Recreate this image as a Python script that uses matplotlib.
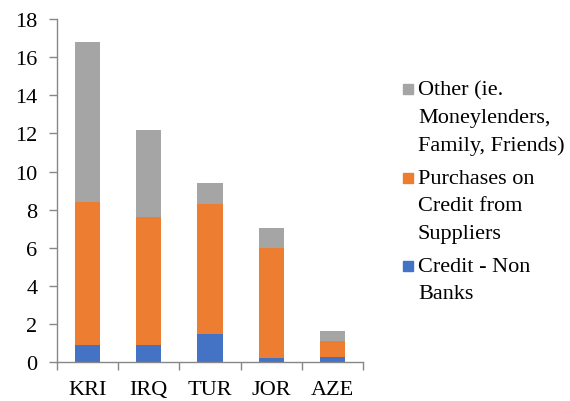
import matplotlib.pyplot as plt
import matplotlib.patches as mpatches
import numpy as np

plt.rcParams['font.family'] = ['Liberation Serif', 'DejaVu Serif']

countries = ['KRI', 'IRQ', 'TUR', 'JOR', 'AZE']
credit_non_banks = [0.9, 0.9, 1.45, 0.2, 0.27]
purchases_on_credit = [7.5, 6.7, 6.85, 5.8, 0.83]
other = [8.4, 4.6, 1.1, 1.05, 0.55]

series_labels = ['Other (ie.\nMoneylenders,\nFamily, Friends)',
                 'Purchases on\nCredit from\nSuppliers',
                 'Credit - Non\nBanks']
col_blue, col_orange, col_grey = '#4472C4', '#ED7D31', '#A5A5A5'
spine_col = '#878787'

fig = plt.figure(figsize=(5.7, 4.02), dpi=100)
ax = fig.add_axes([0.1, 0.097, 0.537, 0.853])

x = np.arange(len(countries))
w = 0.41
b1 = np.array(credit_non_banks)
b2 = b1 + np.array(purchases_on_credit)
ax.bar(x, credit_non_banks, w, color=col_blue)
ax.bar(x, purchases_on_credit, w, bottom=b1, color=col_orange)
ax.bar(x, other, w, bottom=b2, color=col_grey)

ax.set_xlim(-0.5, len(countries) - 0.5)
ax.set_ylim(0, 18)
ax.set_yticks(range(0, 19, 2))
ax.set_xticks(x)
ax.set_xticklabels(countries)
ax.set_xticks(np.arange(-0.5, len(countries)), minor=True)
ax.tick_params(axis='x', which='major', length=0, labelsize=16, pad=13)
ax.tick_params(axis='x', which='minor', length=6, width=1, color=spine_col, direction='out')
ax.tick_params(axis='y', length=6, width=1, color=spine_col, labelsize=16, pad=8)

for s in ['top', 'right']:
    ax.spines[s].set_visible(False)
for s in ['left', 'bottom']:
    ax.spines[s].set_color(spine_col)
    ax.spines[s].set_linewidth(1)

# legend drawn by hand so the swatch sits on the first line of each label
entries = [(col_grey, series_labels[0], 90),
           (col_orange, series_labels[1], 179),
           (col_blue, series_labels[2], 267)]
W, H = 570.0, 402.0
for col, lab, yc in entries:
    fig.patches.append(mpatches.Rectangle((403 / W, 1 - (yc + 5) / H), 10 / W, 10 / H,
                                          transform=fig.transFigure, color=col))
    fig.text(418 / W, 1 - (yc - 9) / H, lab, fontsize=16, va='top', ha='left',
             linespacing=1.6)

fig.savefig('out.png', dpi=100)
